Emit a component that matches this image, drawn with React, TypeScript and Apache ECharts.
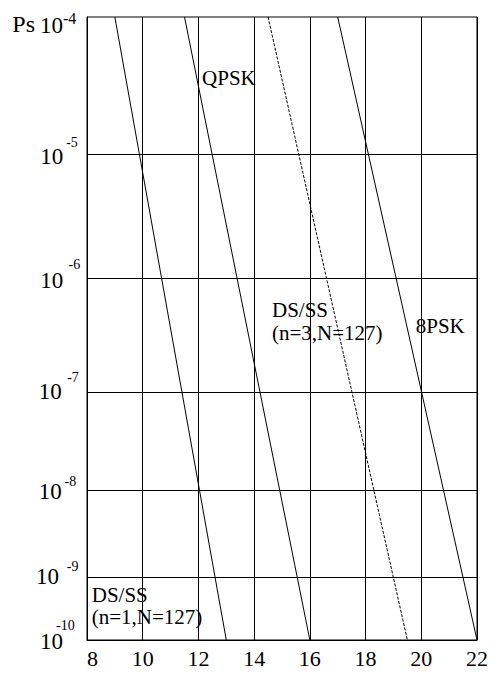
import React, { useEffect, useRef } from "react";
import * as echarts from "echarts";

// Probability-paper scale of the reference: decade exponents and their axis coordinate
const decadeExponents = [-10, -9, -8, -7, -6, -5, -4];
const paperPosition = [0, 0.603, 1.441, 2.394, 3.478, 4.684, 6];

// Eb/N0 (dB) axis
const xMin = 8;
const xMax = 22;
const xStep = 2;

// Curves: [Eb/N0 dB, log10(Ps)]
const dsss1 = [
  [9.0, -4],
  [13.0, -10],
];
const qpsk = [
  [11.5, -4],
  [16.0, -10],
];
const dsss3 = [
  [14.5, -4],
  [19.5, -10],
];
const psk8 = [
  [17.0, -4],
  [22.0, -10],
];

const FONT = "Liberation Serif";

const posOf = (e: number) => paperPosition[decadeExponents.indexOf(e)];
const toPaper = (pts: number[][]) => pts.map(([x, e]) => [x, posOf(e)]);

// y label layout (pixel nudges relative to axis line / grid line)
const yLabelLayout = [
  { exp: -4, tenDx: -24, tenDy: 8.5, supDx: -24, supDy: 1.5, supSize: 16 },
  { exp: -5, tenDx: -23.7, tenDy: 3.2, supDx: -20.8, supDy: -10.8, supSize: 14 },
  { exp: -6, tenDx: -23.7, tenDy: 1.3, supDx: -18.5, supDy: -14.7, supSize: 14 },
  { exp: -7, tenDx: -25.3, tenDy: -0.3, supDx: -19.8, supDy: -13.8, supSize: 14 },
  { exp: -8, tenDx: -25.3, tenDy: 1.2, supDx: -22.5, supDy: -9.3, supSize: 14 },
  { exp: -9, tenDx: -28, tenDy: -1.3, supDx: -20.2, supDy: -11.3, supSize: 14 },
  { exp: -10, tenDx: -24, tenDy: 1.5, supDx: -31, supDy: -15, supSize: 14 },
];

// in-plot annotations, anchored in data coordinates (left edge, vertical middle)
const annotations = [
  { text: "QPSK", x: 12.13, y: 5.417 },
  { text: "DS/SS", x: 14.64, y: 3.18 },
  { text: "(n=3,N=127)", x: 14.64, y: 2.96 },
  { text: "8PSK", x: 19.8, y: 3.026 },
  { text: "DS/SS", x: 8.17, y: 0.436 },
  { text: "(n=1,N=127)", x: 8.17, y: 0.222 },
];

export default function App() {
  const ref = useRef<HTMLDivElement>(null);

  useEffect(() => {
    const chart = echarts.init(ref.current!, null, { renderer: "svg" });

    const lineSeries = (name: string, data: number[][], dashed = false) => ({
      type: "line",
      name,
      data: toPaper(data),
      symbol: "none",
      showSymbol: false,
      silent: true,
      lineStyle: { color: "#000", width: 1, type: dashed ? [3, 1.5] : "solid" },
    });

    chart.setOption({
      animation: false,
      textStyle: { fontFamily: FONT },
      grid: {
        left: 87,
        right: 11,
        top: 17,
        bottom: 33,
        show: true,
        borderColor: "#000",
        borderWidth: 1,
        backgroundColor: "transparent",
      },
      xAxis: {
        type: "value",
        min: xMin,
        max: xMax,
        interval: xStep,
        axisLine: { show: true, lineStyle: { color: "#000", width: 1 } },
        axisTick: { show: false },
        splitLine: { show: true, lineStyle: { color: "#000", width: 1 } },
        axisLabel: {
          color: "#000",
          fontSize: 22,
          fontFamily: FONT,
          margin: 7,
          alignMinLabel: "left",
          showMinLabel: true,
          showMaxLabel: true,
        },
      },
      yAxis: {
        type: "value",
        min: paperPosition[0],
        max: paperPosition[paperPosition.length - 1],
        axisLine: { show: true, lineStyle: { color: "#000", width: 1 } },
        axisTick: { show: false },
        axisLabel: { show: false },
        splitLine: { show: false },
      },
      series: [
        {
          ...lineSeries("DS/SS (n=1,N=127)", dsss1),
          markLine: {
            silent: true,
            symbol: ["none", "none"],
            label: { show: false },
            lineStyle: { color: "#000", width: 1, type: "solid" },
            data: paperPosition.slice(1, -1).map((v) => ({ yAxis: v })),
          },
        },
        lineSeries("QPSK", qpsk),
        lineSeries("DS/SS (n=3,N=127)", dsss3, true),
        lineSeries("8PSK", psk8),
      ],
    });

    const px = (x: number, y: number) =>
      chart.convertToPixel({ gridIndex: 0 }, [x, y]) as number[];
    const axisX = px(xMin, 0)[0];

    const txt = (text: string, x: number, y: number, fontSize: number, align: string) => ({
      type: "text",
      silent: true,
      x,
      y,
      style: {
        text,
        fontSize,
        fontFamily: FONT,
        fill: "#000",
        align,
        verticalAlign: "middle",
      },
    });

    const graphics: any[] = [];
    yLabelLayout.forEach((l) => {
      const gy = px(xMin, posOf(l.exp))[1];
      graphics.push(txt("10", axisX + l.tenDx, gy + l.tenDy, 23, "right"));
      graphics.push(txt(String(l.exp), axisX + l.supDx, gy + l.supDy, l.supSize, "left"));
      if (l.exp === -4) {
        graphics.push(txt("Ps", axisX - 52, gy + 7, 24, "right"));
      }
    });

    annotations.forEach((a) => {
      const [ax, ay] = px(a.x, a.y);
      graphics.push(txt(a.text, ax, ay, 21, "left"));
    });

    chart.setOption({ graphic: graphics });

    return () => chart.dispose();
  }, []);

  return (
    <div
      ref={ref}
      style={{ position: "fixed", left: 0, top: 0, width: 491, height: 673, background: "#fff" }}
    />
  );
}
